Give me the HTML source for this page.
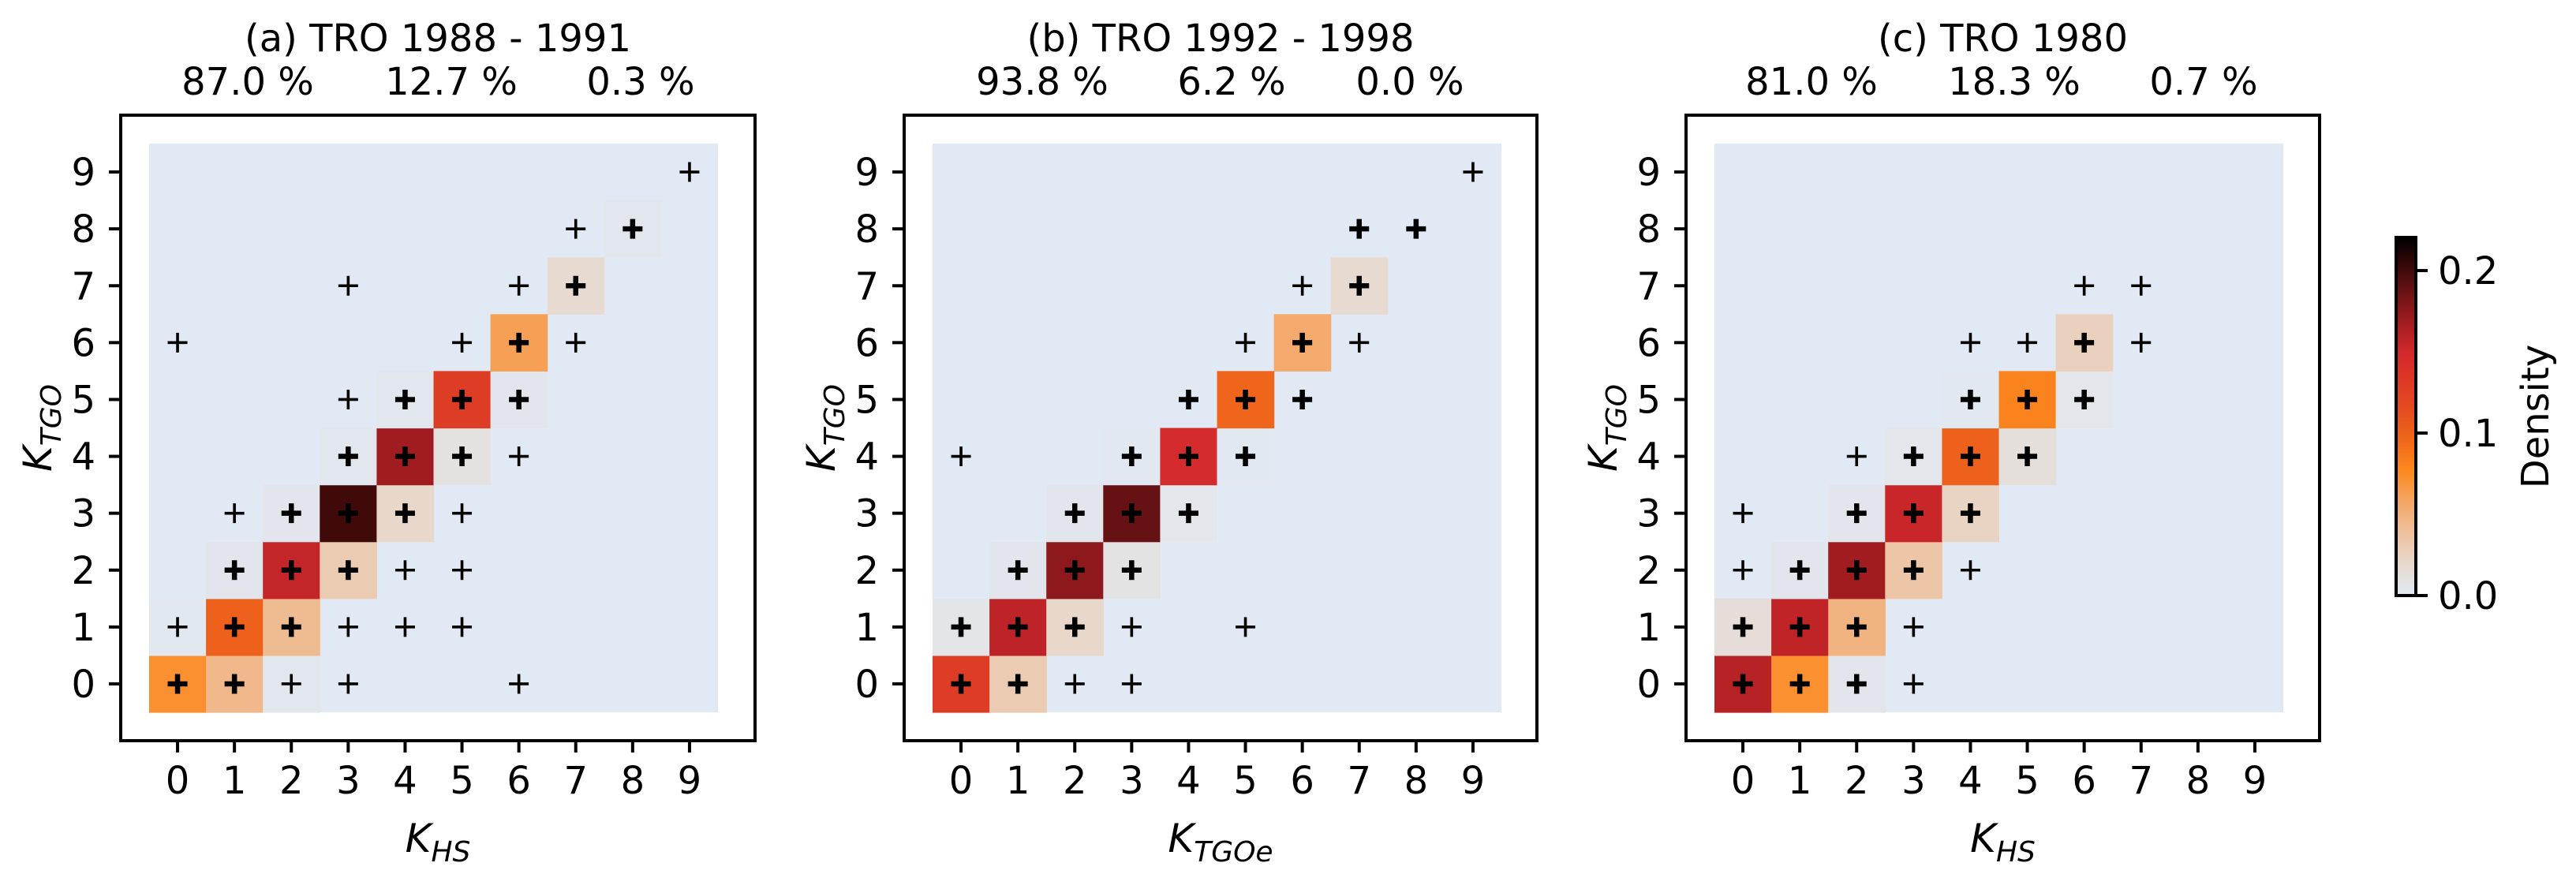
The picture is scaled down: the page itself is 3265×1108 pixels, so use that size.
<!DOCTYPE html>
<html><head><meta charset="utf-8"><style>
html,body{margin:0;padding:0;background:#fff}
svg{display:block}
text{font-family:"DejaVu Sans","Liberation Sans",sans-serif;fill:#000}
</style></head><body>
<svg id="fig" width="3265" height="1108" viewBox="0 0 3265 1108" xmlns="http://www.w3.org/2000/svg"></svg>
<script>
// ---- data ----
const ticks = [0,1,2,3,4,5,6,7,8,9];
const titles = ["(a) TRO 1988 - 1991","(b) TRO 1992 - 1998","(c) TRO 1980"];
const pctA = ["87.0 %","12.7 %","0.3 %"];
const pctB = ["93.8 %","6.2 %","0.0 %"];
const pctC = ["81.0 %","18.3 %","0.7 %"];
const xLabelSubs = ["HS","TGOe","HS"];
const cbTicks = [0.0,0.1,0.2];
const cbMax = 0.2204;
// cells: [x, y, density]
const cellsA = [[0,0,0.072],[1,0,0.045],[2,0,0.003],[0,1,0.002],[1,1,0.100],[2,1,0.043],[1,2,0.004],[2,2,0.155],[3,2,0.030],[2,3,0.004],[3,3,0.200],[4,3,0.020],[3,4,0.003],[4,4,0.168],[5,4,0.010],[4,5,0.003],[5,5,0.130],[6,5,0.004],[6,6,0.062],[7,7,0.018],[8,8,0.003]];
const cellsB = [[0,0,0.130],[1,0,0.030],[0,1,0.006],[1,1,0.157],[2,1,0.020],[1,2,0.004],[2,2,0.175],[3,2,0.008],[2,3,0.004],[3,3,0.188],[4,3,0.005],[3,4,0.002],[4,4,0.147],[5,4,0.002],[5,5,0.097],[6,6,0.055],[7,7,0.018]];
const cellsC = [[0,0,0.160],[1,0,0.072],[2,0,0.004],[0,1,0.014],[1,1,0.156],[2,1,0.048],[1,2,0.004],[2,2,0.168],[3,2,0.035],[2,3,0.004],[3,3,0.153],[4,3,0.024],[3,4,0.005],[4,4,0.100],[5,4,0.012],[4,5,0.002],[5,5,0.080],[6,5,0.005],[6,6,0.026]];
// markers: [x, y, bold(1)/thin(0)]
const marksA = [[0,0,1],[1,0,1],[2,0,0],[3,0,0],[6,0,0],[0,1,0],[1,1,1],[2,1,1],[3,1,0],[4,1,0],[5,1,0],[1,2,1],[2,2,1],[3,2,1],[4,2,0],[5,2,0],[1,3,0],[2,3,1],[3,3,1],[4,3,1],[5,3,0],[3,4,1],[4,4,1],[5,4,1],[6,4,0],[3,5,0],[4,5,1],[5,5,1],[6,5,1],[0,6,0],[5,6,0],[6,6,1],[7,6,0],[3,7,0],[6,7,0],[7,7,1],[7,8,0],[8,8,1],[9,9,0]];
const marksB = [[0,0,1],[1,0,1],[2,0,0],[3,0,0],[0,1,1],[1,1,1],[2,1,1],[3,1,0],[5,1,0],[1,2,1],[2,2,1],[3,2,1],[2,3,1],[3,3,1],[4,3,1],[0,4,0],[3,4,1],[4,4,1],[5,4,1],[4,5,1],[5,5,1],[6,5,1],[5,6,0],[6,6,1],[7,6,0],[6,7,0],[7,7,1],[7,8,1],[8,8,1],[9,9,0]];
const marksC = [[0,0,1],[1,0,1],[2,0,1],[3,0,0],[0,1,1],[1,1,1],[2,1,1],[3,1,0],[0,2,0],[1,2,1],[2,2,1],[3,2,1],[4,2,0],[0,3,0],[2,3,1],[3,3,1],[4,3,1],[2,4,0],[3,4,1],[4,4,1],[5,4,1],[4,5,1],[5,5,1],[6,5,1],[4,6,0],[5,6,0],[6,6,1],[7,6,0],[6,7,0],[7,7,0]];

// ---- colormap ----
const cmapStops = [[0,[225,234,244]],[0.02,[232,216,204]],[0.04,[238,191,154]],[0.06,[245,163,92]],[0.077,[252,136,30]],[0.095,[240,104,26]],[0.115,[228,76,32]],[0.135,[218,54,38]],[0.148,[212,42,44]],[0.165,[170,30,34]],[0.185,[112,20,22]],[0.2,[64,10,10]],[0.2204,[0,0,0]]];
function cmap(v){
  if(v<=0) return "rgb(225,234,244)";
  for(let i=1;i<cmapStops.length;i++){
    const [v1,c1]=cmapStops[i], [v0,c0]=cmapStops[i-1];
    if(v<=v1){const t=(v-v0)/(v1-v0);return "rgb("+c0.map((c,k)=>Math.round(c+(c1[k]-c)*t)).join(",")+")";}
  }
  return "rgb(0,0,0)";
}

const NS="http://www.w3.org/2000/svg";
const svg=document.getElementById("fig");
function mk(tag,attrs,parent){const e=document.createElementNS(NS,tag);for(const k in attrs)e.setAttribute(k,attrs[k]);(parent||svg).appendChild(e);return e;}

const panels=[
 {fl:153,fr:957,cells:cellsA,marks:marksA,pct:pctA,pctX:[161,419,659],id:"a"},
 {fl:1146,fr:1948,cells:cellsB,marks:marksB,pct:pctB,pctX:[175,415,641],id:"b"},
 {fl:2137,fr:2940,cells:cellsC,marks:marksC,pct:pctC,pctX:[159,416,656],id:"c"}
];
const FT=146, FB=939, CELL=72.1, HT=182;
panels.forEach((p,pi)=>{
  const g=mk("g",{});
  
  
  const hx=p.fl+36;
  const xs=i=>hx+CELL*(i+0.5);
  const ys=j=>HT+CELL*(9.5-j);
  const bg=mk("rect",{x:hx,y:HT,width:CELL*10,height:CELL*10,fill:cmap(0)},g);
  
  
  p.cells.forEach(c=>{
    const r=mk("rect",{x:xs(c[0])-CELL/2,y:ys(c[1])-CELL/2,width:CELL+0.6,height:CELL+0.6,fill:cmap(c[2])},g);
    
    
  });
  p.marks.forEach(m=>{
    const sw=m[2]?6.5:3.6, L=12.5, cx=xs(m[0]), cy=ys(m[1]);
    const pl=mk("path",{d:`M${cx-L},${cy}H${cx+L}M${cx},${cy-L}V${cy+L}`,stroke:"#000","stroke-width":sw,fill:"none"},g);
    
    
  });
  const fr=mk("rect",{x:p.fl,y:FT,width:p.fr-p.fl,height:FB-FT,fill:"none",stroke:"#000","stroke-width":4},g);
  
  
  ticks.forEach(t=>{
    mk("line",{x1:p.fl-15,x2:p.fl,y1:ys(t),y2:ys(t),stroke:"#000","stroke-width":4},g);
    const yl=mk("text",{x:p.fl-32,y:ys(t)+17,"font-size":48,"text-anchor":"end"},g);
    yl.textContent=t;
    
    
    mk("line",{x1:xs(t),x2:xs(t),y1:FB,y2:FB+15,stroke:"#000","stroke-width":4},g);
    const xl=mk("text",{x:xs(t),y:1006,"font-size":48,"text-anchor":"middle"},g);
    xl.textContent=t;
    
    
  });
  const cx=(p.fl+p.fr)/2;
  const ti=mk("text",{x:cx,y:65,"font-size":48,"text-anchor":"middle"},g);
  ti.textContent=titles[pi];
  
  
  p.pct.forEach((s,k)=>{
    const t=mk("text",{x:p.fl+p.pctX[k],y:120,"font-size":48,"text-anchor":"middle"},g);
    t.textContent=s;
    
    
  });
  const xt=mk("text",{x:cx,y:1080,"font-size":50,"text-anchor":"middle","font-style":"italic"},g);
  xt.innerHTML='K<tspan font-size="36" dy="12">'+xLabelSubs[pi]+'</tspan>';
  
  
  const yt=mk("text",{x:0,y:0,"font-size":50,"text-anchor":"middle","font-style":"italic",transform:`translate(${p.fl-88},${(FT+FB)/2}) rotate(-90)`},g);
  yt.innerHTML='K<tspan font-size="36" dy="12">TGO</tspan>';
  
  
});

// ---- colorbar ----
const cbL=3037, cbR=3062, cbT=301, cbB=755;
const cbs=v=>cbB-(v/cbMax)*(cbB-cbT);
const defs=mk("defs",{});
const grad=mk("linearGradient",{id:"cbg",x1:0,y1:1,x2:0,y2:0},defs);
cmapStops.forEach(s=>{mk("stop",{offset:(s[0]/cbMax),"stop-color":cmap(s[0]===0?0.0000001:s[0])},grad);});
const cbg=mk("g",{});


mk("rect",{x:cbL,y:cbT,width:cbR-cbL,height:cbB-cbT,fill:"url(#cbg)",stroke:"#000","stroke-width":4},cbg);
cbTicks.forEach(v=>{
  mk("line",{x1:cbR,x2:cbR+15,y1:cbs(v),y2:cbs(v),stroke:"#000","stroke-width":4},cbg);
  const t=mk("text",{x:3090,y:cbs(v)+17,"font-size":48},cbg);
  t.textContent=v.toFixed(1);
  
  
});
const dl=mk("text",{x:0,y:0,"font-size":48,"text-anchor":"middle",transform:"translate(3230,528) rotate(-90)"},cbg);
dl.textContent="Density";


</script>
</body></html>
